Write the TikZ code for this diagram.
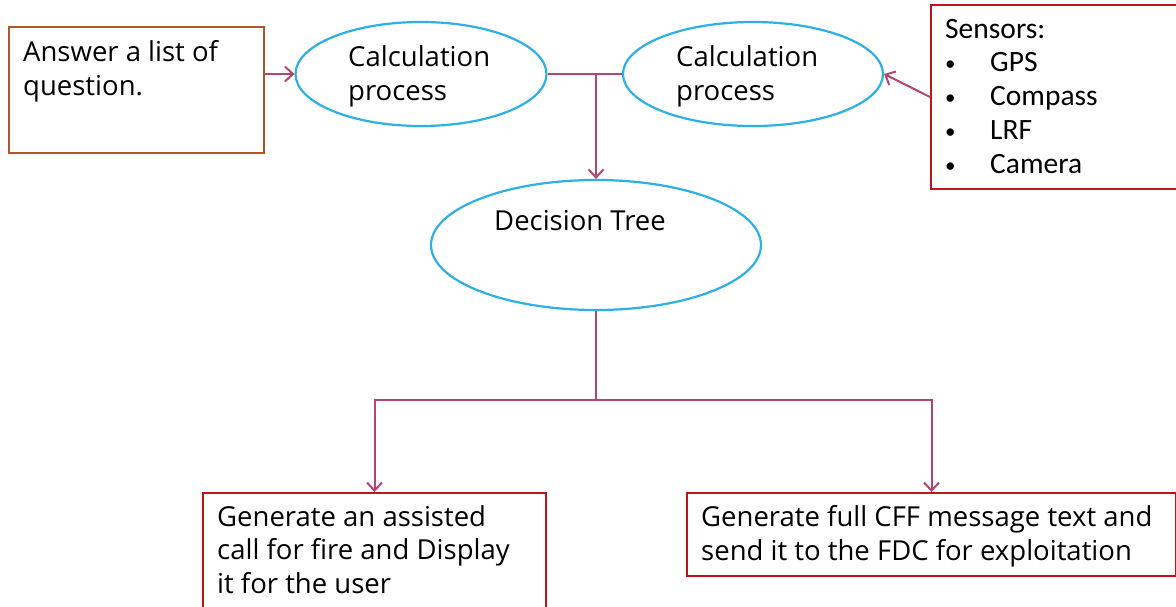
\documentclass[tikz,border=0pt]{standalone}
\usepackage{fontspec}
\setmainfont{Open Sans}
\newfontfamily\sensfont{Carlito}
\usetikzlibrary{arrows.meta,shapes.geometric}
\definecolor{conn}{HTML}{B4456E}
\definecolor{ellc}{HTML}{2DB0E6}
\definecolor{boxred}{HTML}{C0141C}
\definecolor{boxbrown}{HTML}{B0582A}
\newcommand{\sbul}{\makebox[45pt][l]{\raisebox{1pt}{\fontsize{21}{21}\selectfont\textbullet}}}
\tikzset{
  box/.style={draw=boxred, line width=2pt, inner sep=0pt, anchor=north west},
  ellnode/.style={draw=ellc, ellipse, line width=2.2pt, inner sep=0pt},
  connl/.style={draw=conn, line width=2pt},
  arr/.style={connl, -{Straight Barb[length=8pt,width=15pt,line width=2pt]}},
  txt/.style={anchor=base west, inner sep=0pt, align=left, font=\fontsize{27.5}{33.5}\selectfont},
  stxt/.style={anchor=base west, inner sep=0pt, align=left, font=\sensfont\fontsize{29.5}{33.7}\selectfont},
}
\begin{document}
\begin{tikzpicture}[x=1pt,y=-1pt]
\useasboundingbox[fill=white] (0,0) rectangle (1176,606);
% boxes
\node[box, draw=boxbrown, minimum width=255pt, minimum height=126pt] (qa) at (8,26) {};
\node[box, minimum width=247pt, minimum height=184pt] (sens) at (930,4) {};
\node[box, minimum width=343pt, minimum height=130pt] (b1) at (202,492) {};
\node[box, minimum width=489pt, minimum height=83pt] (b2) at (686,492) {};
% ellipses
\node[ellnode, minimum width=251pt, minimum height=104pt] (c1) at (421,74) {};
\node[ellnode, minimum width=260pt, minimum height=104pt] (c2) at (753,74) {};
\node[ellnode, minimum width=330pt, minimum height=130pt] (dt) at (596,245) {};
% texts (base = baseline of last line)
\node[txt] (qat) at (23,95) {Answer a list of\\question.};
\node[txt] (c1t) at (348,100) {Calculation\\process};
\node[txt] (c2t) at (676,100) {Calculation\\process};
\node[txt] (dtt) at (494,230) {Decision Tree};
\node[txt] (b1t) at (217,593) {Generate an assisted\\call for fire and Display\\it for the user};
\node[txt] (b2t) at (701,560) {Generate full CFF message text and\\send it to the FDC for exploitation};
\node[stxt] (senst) at (945,173) {Sensors:\\\sbul GPS\\\sbul Compass\\\sbul LRF\\\sbul Camera};
% connectors
\draw[arr] (qa.east |- c1.west) -- (c1.west);
\draw[arr] (sens.west) -- (c2.east);
\draw[connl] (c1.east) -- (c2.west);
\coordinate (j) at (dt.north |- c1.east);
\draw[arr] (j) -- (dt.north);
\coordinate (k) at (596,400);
\draw[connl] (dt.south) -- (k);
\draw[arr] (k) -| (b1.north);
\draw[arr] (k) -| (b2.north);
\end{tikzpicture}
\end{document}
